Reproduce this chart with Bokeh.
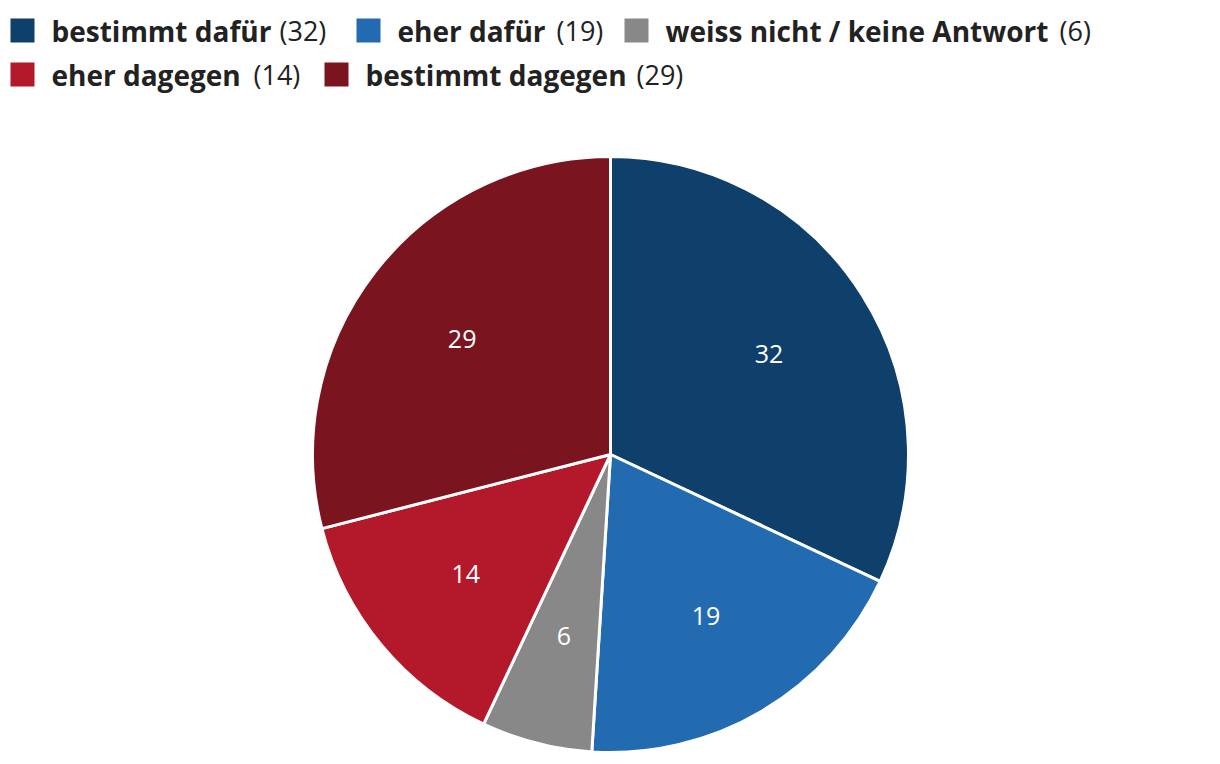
import math
from bokeh.plotting import figure
from bokeh.models import Range1d, ColumnDataSource
from bokeh.core.properties import value
from bokeh.embed import file_html
from bokeh.resources import INLINE

# ---- data ----
categories = ["bestimmt dafür", "eher dafür", "weiss nicht / keine Antwort", "eher dagegen", "bestimmt dagegen"]
values = [32, 19, 6, 14, 29]
colors = ["#0f3f6b", "#236bb1", "#888888", "#b3192b", "#7a1520"]

# ---- layout (pixel-based canvas) ----
W, H = 1210, 760
FONT = "Open Sans"

def X(xr):
    return xr

def Y(yr):
    return H - yr

p = figure(width=W, height=H, output_backend="svg", toolbar_location=None,
           x_range=Range1d(0, W), y_range=Range1d(0, H))
p.axis.visible = False
p.grid.visible = False
p.outline_line_color = None
p.min_border = 0
p.border_fill_color = "white"
p.background_fill_color = "white"

# ---- pie ----
cx, cy, R = X(610), Y(454), 298
total = float(sum(values))
starts, ends, lx, ly, labels = [], [], [], [], []
cum = 0.0
for v in values:
    a0 = math.pi / 2 - (cum + v) / total * 2 * math.pi
    a1 = math.pi / 2 - cum / total * 2 * math.pi
    starts.append(a0)
    ends.append(a1)
    mid = (a0 + a1) / 2
    lx.append(cx + 0.63 * R * math.cos(mid))
    ly.append(cy + 0.63 * R * math.sin(mid))
    labels.append(str(v))
    cum += v

src = ColumnDataSource(dict(start=starts, end=ends, color=colors, lx=lx, ly=ly, label=labels))
p.wedge(x=cx, y=cy, radius=R, start_angle="start", end_angle="end", direction="anticlock",
        fill_color="color", line_color="white", line_width=3, source=src)
p.text(x="lx", y="ly", text="label", source=src, text_color="white",
       text_font=value(FONT), text_font_size="25px", text_align="center", text_baseline="middle")

# ---- legend (manual, mixed weights) ----
sq_x = [22, 368, 636, 22, 336]
sq_y = [30, 30, 30, 74, 74]
name_x = [51, 397, 665, 51, 365]
num_x = [279, 556, 1059, 253, 636]
base_y = [30, 30, 30, 74, 74]

leg = ColumnDataSource(dict(
    sx=[X(v) for v in sq_x], sy=[Y(v) for v in sq_y],
    nx=[X(v) for v in name_x], vx=[X(v) for v in num_x], by=[Y(v) for v in base_y],
    name=categories, num=["(%d)" % v for v in values], color=colors))
p.rect(x="sx", y="sy", width=24, height=24, fill_color="color", line_color=None, source=leg)
p.text(x="nx", y="by", text="name", source=leg, text_color="#222222", text_font=value(FONT),
       text_font_style="bold", text_font_size="28px", text_align="left", text_baseline="alphabetic")
p.text(x="vx", y="by", text="num", source=leg, text_color="#222222", text_font=value(FONT),
       text_font_size="27px", text_align="left", text_baseline="alphabetic")

open("out.html", "w").write(file_html(p, INLINE))
